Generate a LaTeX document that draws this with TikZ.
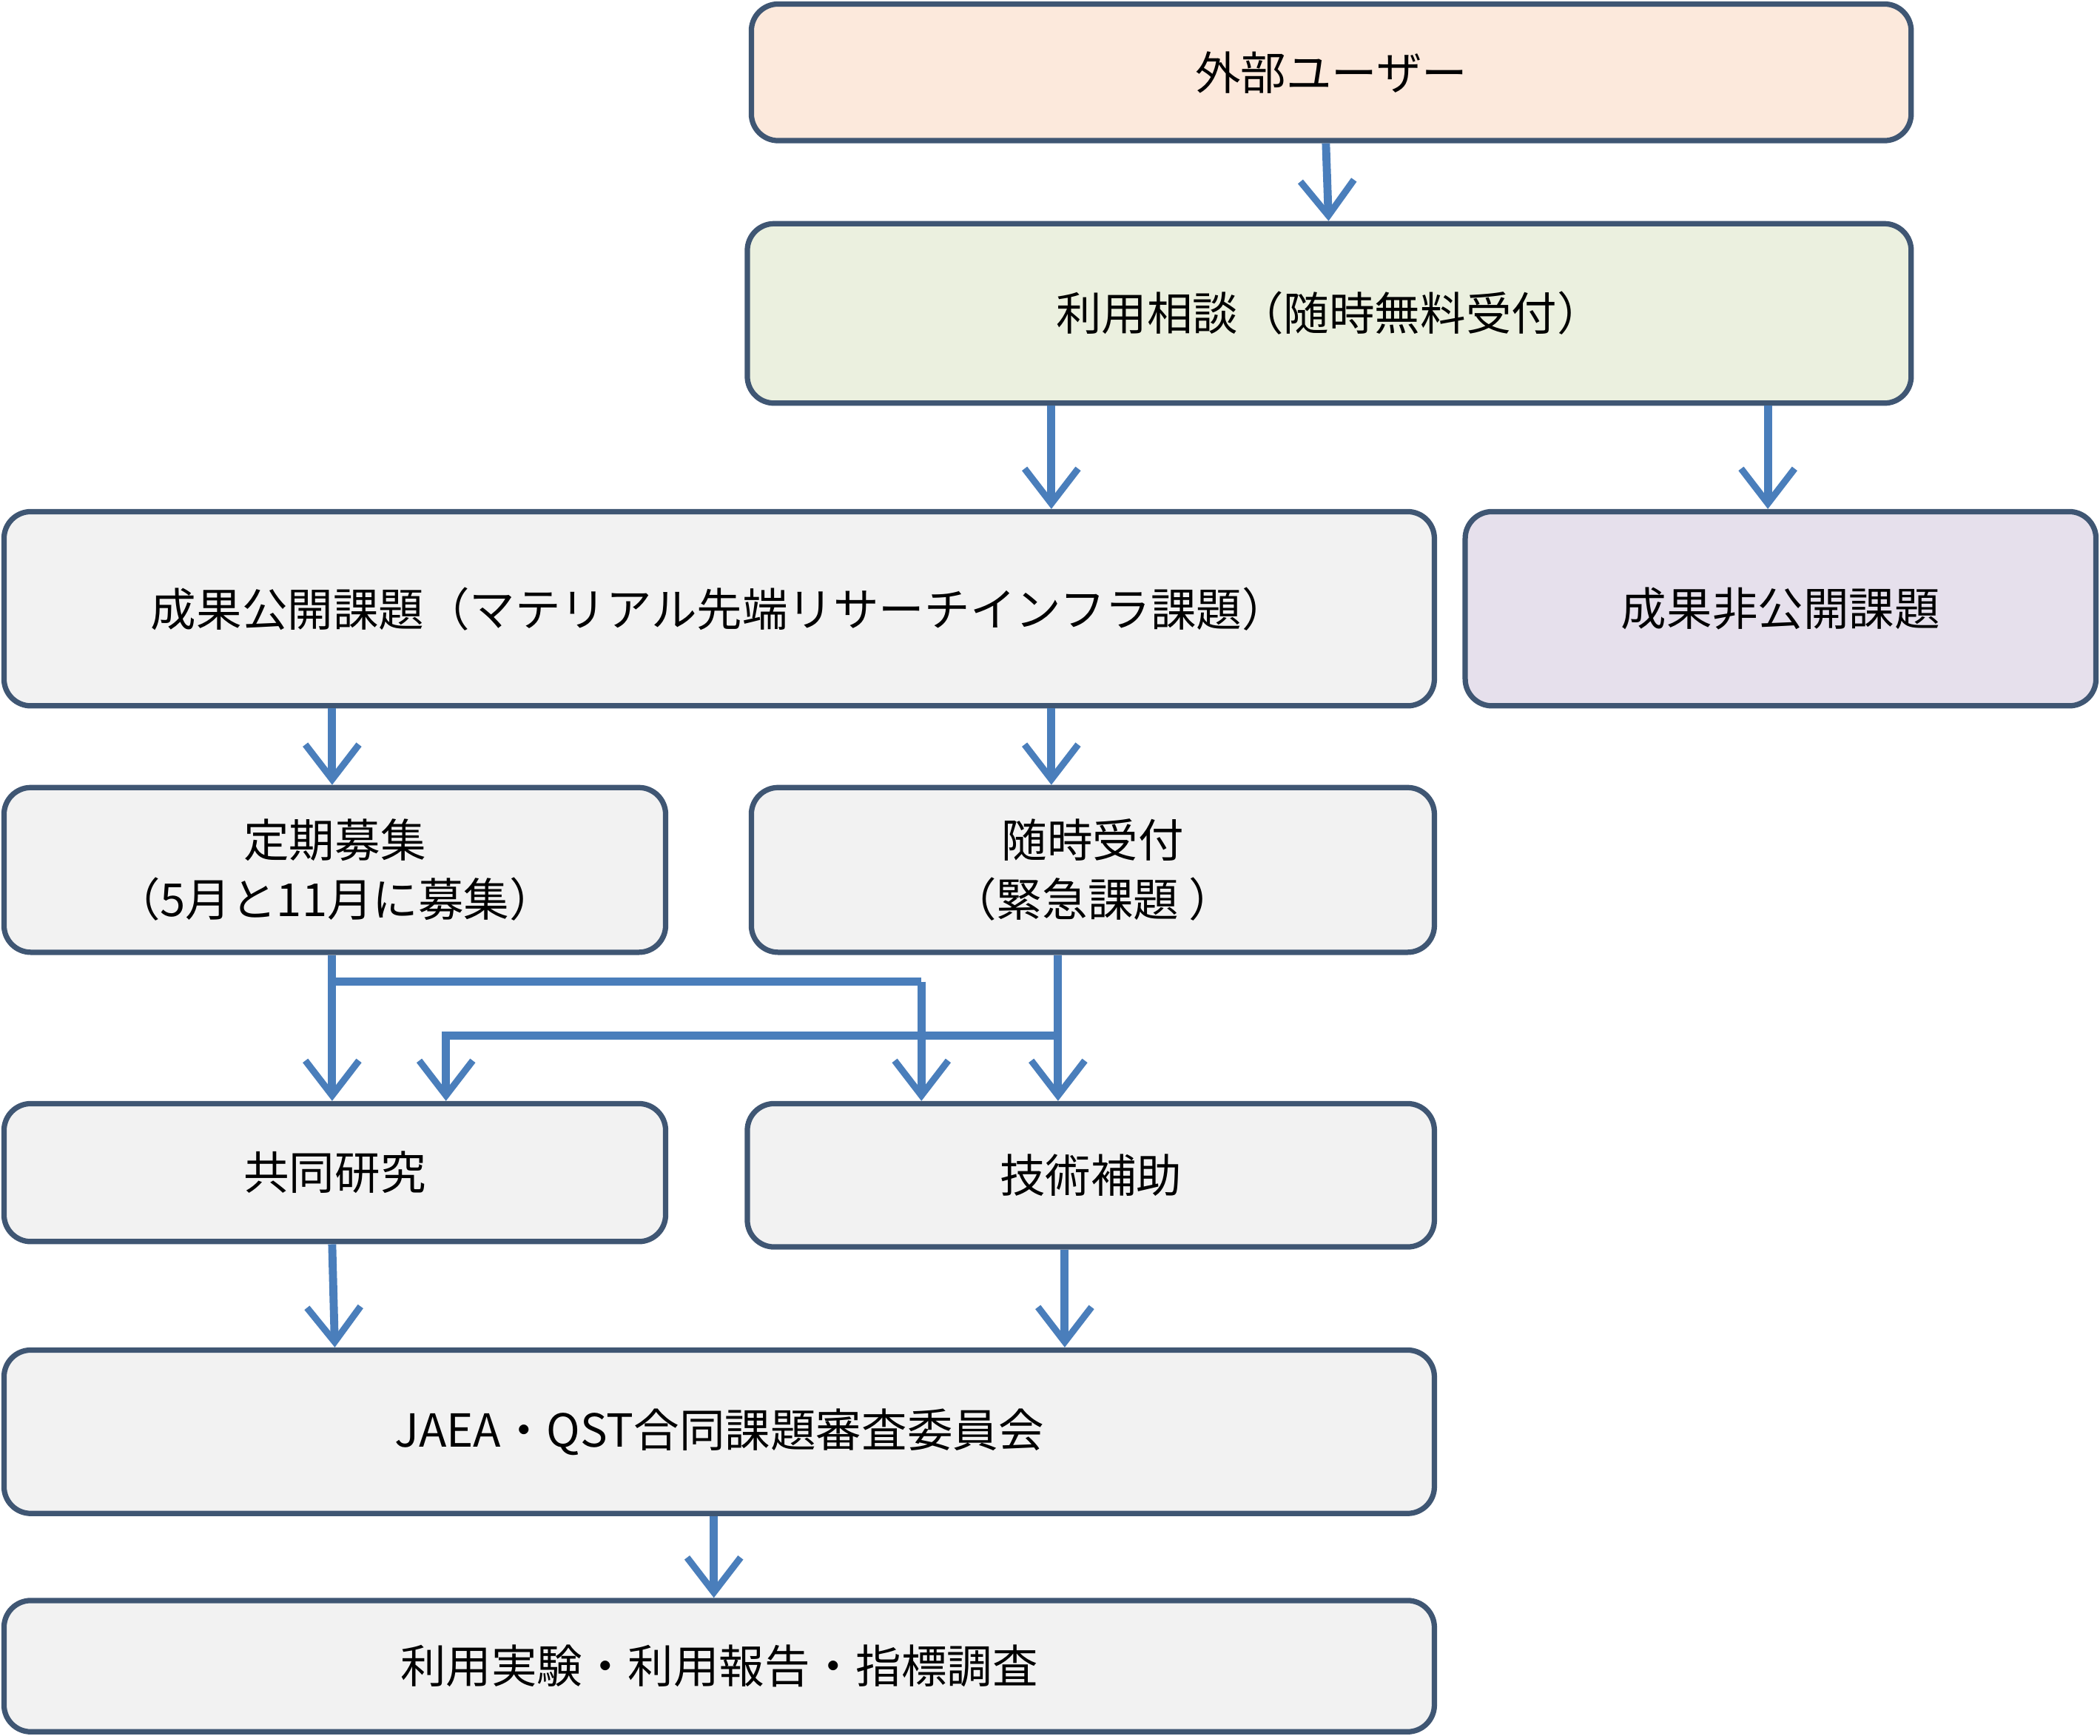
\documentclass[tikz,border=0pt]{standalone}
\usepackage{fontspec}
\setmainfont{Noto Sans CJK JP}
\usetikzlibrary{arrows.meta}
\begin{document}
\begin{tikzpicture}[x=1pt,y=-1pt,
  box/.style={draw=bdr,line width=4pt,rounded corners=20pt,fill=gfill,inner sep=0pt,align=center,font=\fontsize{34}{44}\selectfont},
  arr/.style={draw=arw,line width=6pt,-{Straight Barb[length=26pt,width=40pt,line width=5pt]}},
  ln/.style={draw=arw,line width=6pt}]
\definecolor{bdr}{HTML}{3F5673}
\definecolor{arw}{HTML}{4A7EBB}
\definecolor{gfill}{HTML}{F2F2F2}
\definecolor{pfill}{HTML}{FCE9DC}
\definecolor{ggfill}{HTML}{EBF0DF}
\definecolor{lfill}{HTML}{E6E0EC}
\useasboundingbox (0,0) rectangle (1568,1296);
\newcommand{\bx}[7]{\node[box,fill=#6,minimum width={#3-#2},minimum height={#5-#4}] (#1) at ({(#2+#3)/2},{(#4+#5)/2}) {#7};}
\bx{user}{561}{1427}{3}{105}{pfill}{外部ユーザー}
\bx{soudan}{558}{1427}{167}{301}{ggfill}{利用相談（随時無料受付）}
\bx{kokai}{3}{1071}{382}{527}{gfill}{成果公開課題（マテリアル先端リサーチインフラ課題）}
\bx{hikokai}{1094}{1565}{382}{527}{lfill}{成果非公開課題}
\bx{teiki}{3}{497}{588}{711}{gfill}{定期募集\\（5月と11月に募集）}
\bx{zuiji}{561}{1071}{588}{711}{gfill}{随時受付\\（緊急課題 ）}
\bx{kyodo}{3}{497}{824}{927}{gfill}{共同研究}
\bx{gijutsu}{558}{1071}{824}{931}{gfill}{技術補助}
\bx{jaea}{3}{1071}{1008}{1130}{gfill}{JAEA・QST合同課題審査委員会}
\bx{riyo}{3}{1071}{1195}{1293}{gfill}{利用実験・利用報告・指標調査}
\draw[arr] (user.south -| 990,0) -- (soudan.north -| 992,0);
\draw[arr] (soudan.south -| 785,0) -- (kokai.north -| 785,0);
\draw[arr] (soudan.south -| 1320,0) -- (hikokai.north -| 1320,0);
\draw[arr] (kokai.south -| 248,0) -- (teiki.north -| 248,0);
\draw[arr] (kokai.south -| 785,0) -- (zuiji.north -| 785,0);
\draw[arr] (teiki.south -| 248,0) -- (kyodo.north -| 248,0);
\coordinate (j1) at (248,733);
\coordinate (j2) at (688,733);
\draw[ln] (j1) -- (j2);
\draw[arr] (j2) -- (gijutsu.north -| 688,0);
\draw[arr] (zuiji.south -| 790,0) -- (gijutsu.north -| 790,0);
\coordinate (k1) at (790,773);
\coordinate (k2) at (333,773);
\draw[arr] (k1) -- (k2) -- (kyodo.north -| 333,0);
\draw[arr] (kyodo.south -| 248,0) -- (jaea.north -| 250,0);
\draw[arr] (gijutsu.south -| 795,0) -- (jaea.north -| 795,0);
\draw[arr] (jaea.south -| 533,0) -- (riyo.north -| 533,0);
\end{tikzpicture}
\end{document}
